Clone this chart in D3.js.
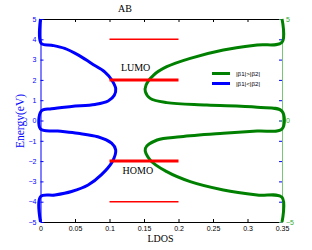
<!DOCTYPE html>
<html>
<head>
<meta charset="utf-8">
<script src="https://cdn.jsdelivr.net/npm/d3@7"></script>
<style>
  html, body { margin: 0; padding: 0; background: #fff; }
  #chart { width: 312px; height: 250px; }
  .serif { font-family: "Liberation Serif", "DejaVu Serif", serif; }
  .sans { font-family: "Liberation Sans", Arial, sans-serif; }
</style>
</head>
<body>
<div id="chart"></div>
<script>
// ---- data ----
const xTicks = [0, 0.05, 0.1, 0.15, 0.2, 0.25, 0.3, 0.35];
const xTickLabels = ["0", "0.05", "0.1", "0.15", "0.2", "0.25", "0.3", "0.35"];
const yTicks = [-5, -4, -3, -2, -1, 0, 1, 2, 3, 4, 5];
const yRightTicks = [-5, 0, 5];

// |b1|<|b2| (blue): LDOS vs energy
const blueE    = [5, 3.8, 3.71, 3.55, 3.22, 2.81, 2.4, 2.01, 1.57, 1.24, 0.96, 0.79, 0.69, 0.58, 0.46,
                  -0.42, -0.52, -0.63, -0.8, -1.12, -1.45, -2.03, -2.68, -3.18, -3.5, -3.67, -3.75, -5];
const blueLdos = [0, 0.001, 0.016, 0.035, 0.055, 0.074, 0.093, 0.103, 0.109, 0.107, 0.098, 0.079, 0.045, 0.016, 0.001,
                  0, 0.025, 0.054, 0.083, 0.103, 0.109, 0.104, 0.088, 0.069, 0.045, 0.021, 0, 0];

// |b1|>|b2| (green)
const greenE    = [5, 3.85, 3.72, 3.47, 3.06, 2.65, 2.24, 1.75, 1.42, 1.09, 0.88, 0.76, 0.65, 0.46,
                   -0.42, -0.52, -0.63, -0.8, -0.96, -1.37, -1.95, -2.52, -3.01, -3.42, -3.67, -3.78, -5];
const greenLdos = [0.35, 0.35, 0.314, 0.265, 0.217, 0.183, 0.164, 0.153, 0.152, 0.159, 0.183, 0.241, 0.314, 0.35,
                   0.35, 0.314, 0.265, 0.203, 0.169, 0.152, 0.159, 0.183, 0.217, 0.265, 0.314, 0.35, 0.35];

// energy levels (red segments)
const levelE = [4, 2, -2, -4];
const levelFrom = 0.1, levelTo = 0.2;

const legendLabels = ["|β1|>|β2|", "|β1|<|β2|"];

// ---- drawing ----
const width = 312, height = 250;
const BLUE = "#0000ff", GREEN = "#008000", RED = "#ff0000";

const svg = d3.select("#chart").append("svg")
  .attr("width", width).attr("height", height);

const x = d3.scaleLinear().domain([0, 0.35]).range([40.5, 282]);
const y = d3.scaleLinear().domain([-5, 5]).range([222, 19]);

// bottom axis
svg.append("g")
  .attr("class", "sans")
  .attr("transform", `translate(0,${y(-5)})`)
  .call(d3.axisBottom(x).tickValues(xTicks).tickFormat((d, i) => xTickLabels[i])
    .tickSizeInner(-3).tickSizeOuter(0).tickPadding(4))
  .call(g => g.selectAll("text").attr("fill", "#000").style("font-size", "7px"))
  .call(g => g.selectAll("path,line").attr("stroke", "#000"));

// top axis (box)
svg.append("g")
  .attr("transform", `translate(0,${y(5)})`)
  .call(d3.axisTop(x).tickValues(xTicks).tickFormat("").tickSizeInner(-3).tickSizeOuter(0))
  .call(g => g.selectAll("path,line").attr("stroke", "#000"));

// left axis (blue)
svg.append("g")
  .attr("class", "sans")
  .attr("transform", `translate(${x(0)},0)`)
  .call(d3.axisLeft(y).tickValues(yTicks).tickFormat(d3.format("d"))
    .tickSizeInner(-3).tickSizeOuter(0).tickPadding(4))
  .call(g => g.selectAll("text").attr("fill", BLUE).style("font-size", "7px"))
  .call(g => g.selectAll("path,line").attr("stroke", BLUE));

// right side: blue mirrored ticks
svg.append("g")
  .attr("transform", `translate(${x(0.35)},0)`)
  .call(d3.axisRight(y).tickValues(yTicks).tickFormat("").tickSizeInner(-3).tickSizeOuter(0))
  .call(g => g.select("path").remove())
  .call(g => g.selectAll("line").attr("stroke", BLUE));

// right axis (green)
svg.append("g")
  .attr("class", "sans")
  .attr("transform", `translate(${x(0.35)},0)`)
  .call(d3.axisRight(y).tickValues(yRightTicks).tickFormat(d3.format("d"))
    .tickSizeInner(-3).tickSizeOuter(0).tickPadding(4))
  .call(g => g.selectAll("text").attr("fill", "#33aa33").style("font-size", "7px"))
  .call(g => g.selectAll("path,line").attr("stroke", "#55b855").attr("stroke-width", 0.8));

// curves
const line = d3.line()
  .x(d => x(d[0]))
  .y(d => y(d[1]))
  .curve(d3.curveCatmullRom.alpha(0.5));

svg.append("path")
  .datum(greenLdos.map((v, i) => [v, greenE[i]]))
  .attr("d", line)
  .attr("fill", "none")
  .attr("stroke", GREEN)
  .attr("stroke-width", 3);

svg.append("path")
  .datum(blueLdos.map((v, i) => [v, blueE[i]]))
  .attr("d", line)
  .attr("fill", "none")
  .attr("stroke", BLUE)
  .attr("stroke-width", 3);

// red levels
svg.selectAll("line.level")
  .data(levelE)
  .enter()
  .append("line")
  .attr("class", "level")
  .attr("x1", x(levelFrom)).attr("x2", x(levelTo))
  .attr("y1", d => y(d)).attr("y2", d => y(d))
  .attr("stroke", RED)
  .attr("stroke-width", d => Math.abs(d) === 2 ? 3 : 1.5);

// labels
svg.append("text").attr("class", "serif")
  .attr("x", x(0.1165)).attr("y", y(2.45))
  .style("font-size", "10px").attr("fill", "#000").text("LUMO");
svg.append("text").attr("class", "serif")
  .attr("x", x(0.119)).attr("y", y(-2.65))
  .style("font-size", "10px").attr("fill", "#000").text("HOMO");

svg.append("text").attr("class", "serif")
  .attr("x", 125).attr("y", 11.5)
  .attr("text-anchor", "middle")
  .style("font-size", "10px").attr("fill", "#000").text("AB");

svg.append("text").attr("class", "serif")
  .attr("x", 160.5).attr("y", 241.5)
  .attr("text-anchor", "middle")
  .style("font-size", "10px").attr("fill", "#000").text("LDOS");

svg.append("text").attr("class", "serif")
  .attr("transform", `translate(24,121) rotate(-90)`)
  .attr("text-anchor", "middle")
  .style("font-size", "11.5px").attr("fill", BLUE).text("Energy(eV)");

// legend
const legend = svg.append("g").attr("class", "sans")
  .attr("transform", "translate(212,73.5)");
[GREEN, BLUE].forEach((c, i) => {
  const row = legend.append("g").attr("transform", `translate(0,${i * 10})`);
  row.append("line").attr("x1", 0).attr("x2", 18).attr("y1", 0).attr("y2", 0)
    .attr("stroke", c).attr("stroke-width", 3);
  row.append("text").attr("x", 24).attr("y", 2.2)
    .style("font-size", "6.2px").attr("fill", "#000").text(legendLabels[i]);
});
</script>
</body>
</html>
